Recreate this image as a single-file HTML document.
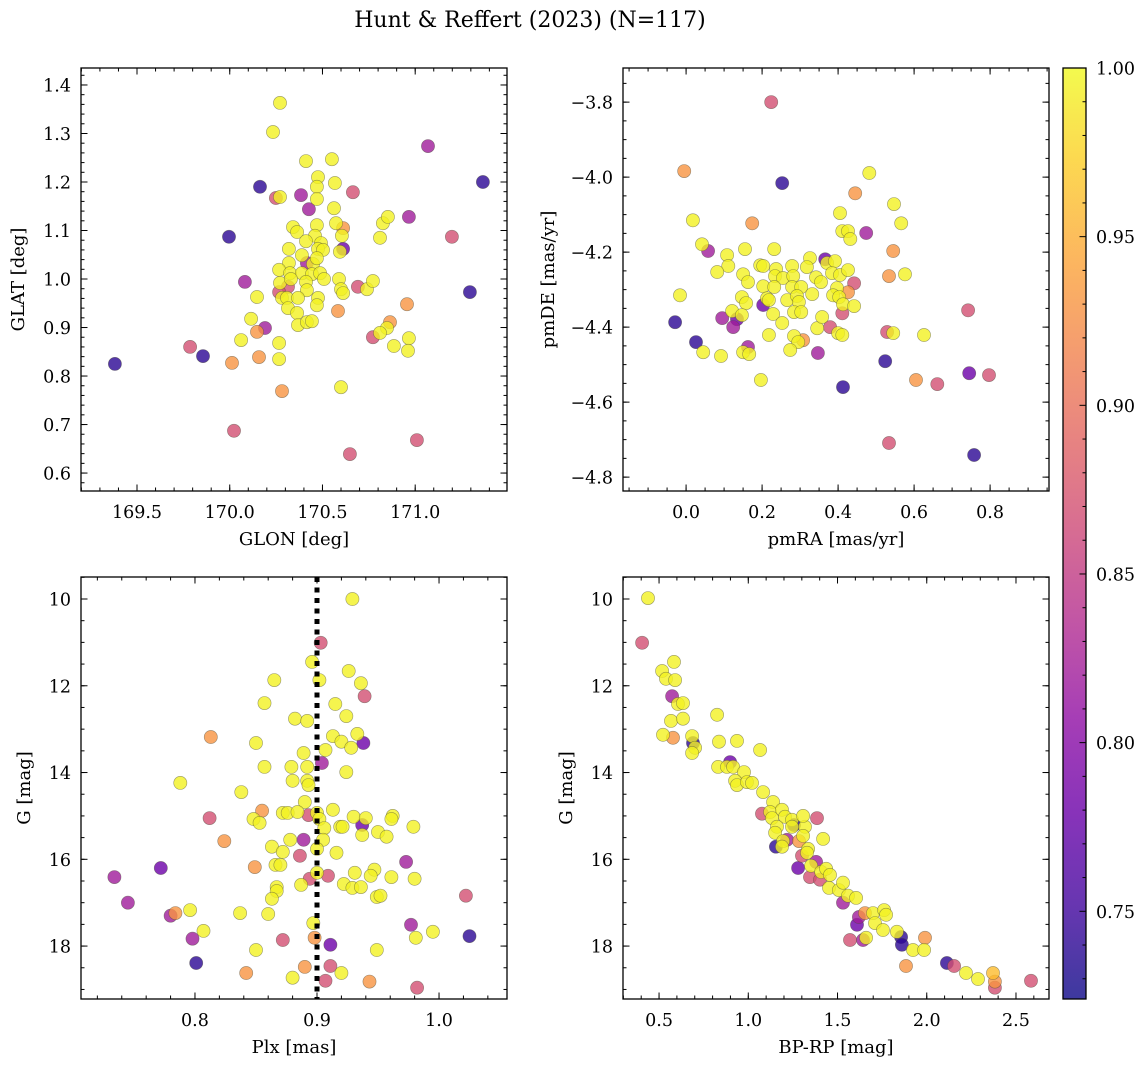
<!DOCTYPE html>
<html><head><meta charset="utf-8"><title>Hunt & Reffert (2023)</title>
<style>
html,body{margin:0;padding:0;background:#fff;}
svg{display:block;}
text{font-family:"DejaVu Serif","Liberation Serif",serif;fill:#000;}
</style></head>
<body>
<svg id="fig" width="1148" height="1067" viewBox="0 0 1148 1067" xmlns="http://www.w3.org/2000/svg">
<text x="530" y="27" font-size="22" text-anchor="middle">Hunt &amp; Reffert (2023) (N=117)</text>
</svg>
<script>
// probability levels
const Y=0.995,O=0.93,P=0.87,M=0.82,V=0.78,B=0.74;

// Panel 1: GLON / GLAT
const p1Lon=[170.271,170.233,170.411,170.551,170.476,170.567,170.470,170.470,170.163,170.249,170.271,170.384,170.664,170.427,170.562,170.573,170.611,170.605,170.966,170.826,170.853,170.810,169.996,170.341,170.363,170.470,170.460,170.411,170.492,170.476,170.503,170.319,170.611,170.594,170.389,170.416,170.449,170.470,170.319,170.266,170.325,170.389,170.443,170.487,170.508,170.271,170.330,170.314,170.266,170.411,170.416,170.282,170.309,170.368,170.476,170.470,170.314,170.363,170.368,170.416,170.443,170.589,170.600,170.611,170.691,170.740,170.772,170.584,170.082,170.147,170.115,170.190,170.147,170.061,170.266,170.266,170.158,170.012,169.856,170.282,170.600,170.956,170.864,170.848,170.772,170.810,170.885,170.966,170.961,171.069,171.365,171.198,171.295,169.381,169.786,171.009,170.648,170.023];
const p1Lat=[1.363,1.303,1.243,1.247,1.210,1.198,1.190,1.165,1.190,1.167,1.169,1.173,1.179,1.144,1.146,1.115,1.105,1.089,1.128,1.115,1.128,1.085,1.087,1.107,1.097,1.111,1.089,1.078,1.074,1.062,1.060,1.062,1.062,1.056,1.049,1.033,1.031,1.043,1.033,1.019,1.012,1.012,1.010,1.012,1.000,0.992,1.000,0.984,0.973,0.994,0.977,0.961,0.961,0.961,0.961,0.946,0.940,0.930,0.905,0.911,0.913,1.000,0.979,0.971,0.984,0.979,0.996,0.934,0.994,0.963,0.918,0.899,0.891,0.874,0.868,0.835,0.839,0.827,0.841,0.769,0.777,0.948,0.911,0.899,0.880,0.889,0.862,0.878,0.852,1.274,1.200,1.087,0.973,0.825,0.860,0.668,0.639,0.687];
const p1Prob=[Y,Y,Y,Y,Y,Y,Y,Y,B,P,Y,M,P,M,Y,Y,O,Y,M,Y,Y,Y,B,Y,Y,Y,Y,Y,Y,Y,Y,Y,V,Y,Y,M,Y,Y,Y,Y,Y,Y,Y,Y,Y,Y,Y,P,P,Y,Y,Y,Y,Y,Y,Y,Y,Y,Y,Y,Y,Y,Y,Y,P,Y,Y,O,M,Y,Y,M,O,Y,Y,Y,O,O,B,O,Y,O,O,Y,P,Y,Y,Y,Y,M,B,P,B,B,P,P,P,P];

// Panel 2: pmRA / pmDE
const p2Ra=[-0.005,0.253,0.482,0.445,0.547,0.566,0.018,0.174,0.405,0.411,0.426,0.432,0.474,0.545,0.534,0.576,0.042,0.058,0.108,0.111,0.082,0.155,0.232,0.195,0.203,0.150,0.163,0.237,0.234,0.255,0.279,0.282,0.326,0.318,0.366,0.371,0.392,0.384,0.405,0.426,0.342,0.355,0.203,0.232,0.279,0.303,0.332,0.266,0.292,0.297,0.284,0.303,0.397,0.387,0.403,0.413,0.426,0.442,0.442,0.411,0.147,0.158,0.213,0.218,0.203,0.229,0.253,0.095,0.121,0.147,0.134,0.124,0.218,0.345,0.358,0.379,0.400,0.411,0.284,0.295,0.308,0.274,0.529,0.545,0.626,0.026,0.045,0.092,0.163,0.150,0.166,0.347,0.524,0.197,0.413,0.605,0.661,-0.016,-0.029,0.742,0.745,0.797,0.758,0.534,0.224];
const p2De=[-3.984,-4.016,-3.989,-4.043,-4.072,-4.123,-4.115,-4.123,-4.096,-4.144,-4.144,-4.165,-4.149,-4.197,-4.264,-4.259,-4.179,-4.197,-4.208,-4.237,-4.253,-4.192,-4.192,-4.235,-4.237,-4.259,-4.280,-4.245,-4.264,-4.269,-4.237,-4.264,-4.216,-4.240,-4.219,-4.229,-4.224,-4.256,-4.261,-4.248,-4.267,-4.280,-4.291,-4.293,-4.293,-4.293,-4.312,-4.328,-4.317,-4.333,-4.360,-4.360,-4.296,-4.315,-4.320,-4.339,-4.307,-4.283,-4.344,-4.363,-4.320,-4.336,-4.323,-4.328,-4.341,-4.365,-4.389,-4.376,-4.357,-4.368,-4.379,-4.400,-4.421,-4.403,-4.373,-4.400,-4.416,-4.421,-4.424,-4.440,-4.435,-4.461,-4.413,-4.416,-4.421,-4.440,-4.467,-4.477,-4.453,-4.467,-4.472,-4.469,-4.491,-4.541,-4.560,-4.541,-4.552,-4.315,-4.387,-4.355,-4.523,-4.528,-4.741,-4.709,-3.800];
const p2Prob=[O,B,Y,O,Y,Y,Y,O,Y,Y,Y,Y,M,O,O,Y,Y,M,Y,Y,Y,Y,Y,Y,Y,Y,Y,Y,Y,Y,Y,Y,Y,Y,V,Y,Y,Y,Y,Y,Y,Y,Y,Y,Y,Y,Y,Y,Y,Y,Y,Y,Y,Y,Y,Y,O,P,Y,P,Y,Y,Y,Y,V,Y,Y,M,Y,Y,V,M,Y,Y,Y,P,Y,Y,Y,Y,O,Y,P,Y,Y,B,Y,Y,M,Y,Y,M,B,Y,B,O,P,Y,B,P,V,P,B,P,P];

// Panel 3: Plx / G
const p3Plx=[0.929,0.903,0.896,0.926,0.865,0.902,0.936,0.939,0.857,0.915,0.924,0.882,0.892,0.813,0.850,0.913,0.920,0.928,0.933,0.938,0.907,0.889,0.904,0.857,0.879,0.892,0.924,0.880,0.892,0.893,0.788,0.838,0.890,0.855,0.812,0.848,0.853,0.872,0.876,0.884,0.893,0.900,0.902,0.913,0.906,0.930,0.940,0.937,0.919,0.921,0.937,0.962,0.961,0.979,0.950,0.957,0.824,0.863,0.878,0.889,0.905,0.872,0.886,0.900,0.916,0.849,0.866,0.870,0.973,0.900,0.894,0.909,0.931,0.947,0.944,0.961,0.980,0.887,0.922,0.929,0.936,0.867,0.867,0.863,0.949,0.952,0.796,0.837,0.860,0.897,0.977,0.995,0.807,0.798,0.872,0.898,0.911,0.981,0.850,0.949,0.801,0.842,0.890,0.911,0.920,0.880,0.907,0.943,0.982,0.734,0.745,0.772,0.780,0.784,1.022,1.025];
const p3G=[10.00,11.01,11.45,11.66,11.87,11.87,11.94,12.24,12.40,12.42,12.70,12.76,12.81,13.18,13.32,13.16,13.29,13.43,13.11,13.32,13.48,13.55,13.78,13.87,13.87,13.87,13.99,14.19,14.19,14.29,14.24,14.45,14.68,14.88,15.05,15.07,15.16,14.93,14.93,14.91,14.98,14.93,15.07,14.86,15.28,15.02,15.05,15.21,15.25,15.25,15.44,15.00,15.07,15.25,15.37,15.48,15.58,15.71,15.55,15.55,15.55,15.83,15.92,15.76,15.85,16.18,16.13,16.13,16.06,16.31,16.45,16.38,16.31,16.24,16.38,16.41,16.45,16.59,16.57,16.66,16.64,16.64,16.73,16.91,16.87,16.84,17.17,17.24,17.26,17.47,17.51,17.67,17.65,17.83,17.86,17.81,17.97,17.81,18.09,18.09,18.39,18.62,18.48,18.46,18.62,18.73,18.80,18.82,18.96,16.41,17.00,16.20,17.30,17.24,16.84,17.77];
const p3Prob=[Y,P,Y,Y,Y,Y,Y,P,Y,Y,Y,Y,Y,O,Y,Y,Y,Y,Y,V,Y,Y,M,Y,Y,Y,Y,Y,Y,Y,Y,Y,Y,O,P,Y,Y,Y,Y,Y,P,Y,Y,Y,Y,Y,Y,V,Y,Y,Y,Y,Y,Y,Y,Y,O,Y,Y,M,Y,Y,P,Y,Y,O,Y,Y,M,Y,P,P,Y,Y,Y,Y,Y,Y,Y,Y,Y,Y,Y,Y,Y,Y,Y,Y,Y,Y,M,Y,Y,M,P,O,V,Y,Y,Y,B,O,O,P,Y,Y,P,O,P,M,M,V,M,O,P,B];

// Panel 4: BP-RP / G
const p4Col=[0.438,0.405,0.584,0.517,0.539,0.590,0.573,0.606,0.634,0.567,0.634,0.825,0.522,0.578,0.685,0.690,0.702,0.685,0.836,0.937,1.066,0.898,0.831,0.881,0.915,0.976,0.926,0.937,0.993,1.021,1.083,1.139,1.077,1.122,1.189,1.133,1.206,1.245,1.256,1.161,1.245,1.318,1.150,1.307,1.385,1.307,1.284,1.217,1.195,1.155,1.189,1.419,1.335,1.329,1.301,1.380,1.279,1.352,1.346,1.402,1.408,1.436,1.458,1.452,1.508,1.531,1.559,1.604,1.531,1.654,1.620,1.699,1.761,1.772,1.609,1.710,1.755,1.833,1.856,1.861,1.990,1.570,1.643,1.660,1.923,1.985,1.884,2.113,2.153,2.220,2.287,2.371,2.382,2.382,2.584];
const p4G=[9.98,11.01,11.45,11.66,11.84,11.87,12.24,12.42,12.40,12.81,12.76,12.67,13.13,13.20,13.16,13.32,13.43,13.55,13.29,13.27,13.48,13.76,13.87,13.87,13.87,13.99,14.19,14.29,14.22,14.24,14.45,14.68,14.95,14.91,14.86,15.05,15.02,15.09,15.21,15.25,15.25,15.25,15.39,15.00,15.05,15.46,15.58,15.55,15.58,15.71,15.71,15.53,15.76,15.85,15.92,16.06,16.20,16.15,16.41,16.47,16.29,16.22,16.36,16.66,16.71,16.54,16.84,16.89,17.00,17.24,17.33,17.24,17.17,17.28,17.51,17.47,17.63,17.67,17.79,17.97,17.81,17.86,17.86,17.81,18.09,18.09,18.46,18.39,18.46,18.62,18.76,18.62,18.82,18.96,18.80];
const p4Prob=[Y,P,Y,Y,Y,Y,M,Y,Y,Y,Y,Y,Y,O,Y,B,Y,Y,Y,Y,Y,V,Y,Y,Y,Y,Y,Y,Y,Y,Y,Y,P,Y,Y,Y,Y,Y,B,Y,Y,Y,Y,Y,P,Y,O,M,Y,B,Y,Y,Y,Y,P,M,V,Y,P,P,Y,Y,Y,Y,Y,Y,Y,Y,M,O,M,Y,Y,Y,V,Y,Y,Y,B,B,O,P,M,Y,Y,Y,O,B,P,Y,Y,0.96,O,P,P];

// colorbar
const cbMin=0.724, cbMax=1.0;
const cbTicks=[0.75,0.80,0.85,0.90,0.95,1.00];

const NS="http://www.w3.org/2000/svg";
const svg=document.getElementById('fig');
function el(tag,attrs,parent){const e=document.createElementNS(NS,tag);for(const k in attrs)e.setAttribute(k,attrs[k]);(parent||svg).appendChild(e);return e;}

const plasma=[[13,8,135],[65,4,157],[106,0,168],[143,13,164],[177,42,144],[204,71,120],[225,100,98],[242,132,75],[252,166,54],[252,206,37],[240,249,33]];
function cmap(v){let t=(v-cbMin)/(cbMax-cbMin);t=Math.max(0,Math.min(1,t));const s=t*10;const i=Math.min(9,Math.floor(s));const f=s-i;const a=plasma[i],b=plasma[i+1];return 'rgb('+[0,1,2].map(k=>Math.round(a[k]+(b[k]-a[k])*f)).join(',')+')';}

function fmt(v,d){const s=Math.abs(v).toFixed(d);return (v<-1e-9?'\u2212':'')+s;}

const TF=17.5, LF=18;
function makePanel(cfg){
  const g=el('g',{});
  
  
  const sx=v=>cfg.x0+(v-cfg.xmin)/(cfg.xmax-cfg.xmin)*(cfg.x1-cfg.x0);
  const sy=v=>cfg.y0+(v-cfg.ytop)/(cfg.ybot-cfg.ytop)*(cfg.y1-cfg.y0);
  const tg=el('g',{stroke:'#000','stroke-width':1},g);
  
  
  function ticks(lo,hi,step){const r=[];const a=Math.ceil(lo/step-1e-6),b=Math.floor(hi/step+1e-6);for(let i=a;i<=b;i++)r.push(+(i*step).toFixed(6));return r;}
  const xlo=Math.min(cfg.xmin,cfg.xmax),xhi=Math.max(cfg.xmin,cfg.xmax);
  const ylo=Math.min(cfg.ytop,cfg.ybot),yhi=Math.max(cfg.ytop,cfg.ybot);
  ticks(xlo,xhi,cfg.xminor).forEach(v=>{const x=sx(v);el('line',{x1:x,x2:x,y1:cfg.y1,y2:cfg.y1-3.5},tg);el('line',{x1:x,x2:x,y1:cfg.y0,y2:cfg.y0+3.5},tg);});
  ticks(ylo,yhi,cfg.yminor).forEach(v=>{const y=sy(v);el('line',{x1:cfg.x0,x2:cfg.x0+3.5,y1:y,y2:y},tg);el('line',{x1:cfg.x1,x2:cfg.x1-3.5,y1:y,y2:y},tg);});
  ticks(xlo,xhi,cfg.xmajor).forEach(v=>{const x=sx(v);el('line',{x1:x,x2:x,y1:cfg.y1,y2:cfg.y1-6.5},tg);el('line',{x1:x,x2:x,y1:cfg.y0,y2:cfg.y0+6.5},tg);
    const t=el('text',{x:x,y:cfg.y1+27,'font-size':TF,'text-anchor':'middle'},g);t.textContent=fmt(v,cfg.xdec);
    
    });
  ticks(ylo,yhi,cfg.ymajor).forEach(v=>{const y=sy(v);el('line',{x1:cfg.x0,x2:cfg.x0+6.5,y1:y,y2:y},tg);el('line',{x1:cfg.x1,x2:cfg.x1-6.5,y1:y,y2:y},tg);
    const t=el('text',{x:cfg.x0-10,y:y+6.5,'font-size':TF,'text-anchor':'end'},g);t.textContent=fmt(v,cfg.ydec);
    
    });
  const pg=el('g',{},g);
  
  
  const clip=el('clipPath',{id:cfg.name+'-clip'},g);
  el('rect',{x:cfg.x0,y:cfg.y0,width:cfg.x1-cfg.x0,height:cfg.y1-cfg.y0},clip);
  pg.setAttribute('clip-path','url(#'+cfg.name+'-clip)');
  const order=cfg.xs.map((_,i)=>i).sort((a,b)=>cfg.ps[a]-cfg.ps[b]);
  order.forEach(i=>{
    const c=el('circle',{cx:sx(cfg.xs[i]).toFixed(1),cy:sy(cfg.ys[i]).toFixed(1),r:6.6,fill:cmap(cfg.ps[i]),'fill-opacity':0.8,stroke:'#4a4a3a','stroke-opacity':0.55,'stroke-width':0.6},pg);
    
    
  });
  if(cfg.vline!==undefined){
    const l=el('line',{x1:sx(cfg.vline),x2:sx(cfg.vline),y1:cfg.y0,y2:cfg.y1,stroke:'#000','stroke-width':5,'stroke-dasharray':'5,5.5'},g);
    
    
  }
  const fr=el('rect',{x:cfg.x0,y:cfg.y0,width:cfg.x1-cfg.x0,height:cfg.y1-cfg.y0,fill:'none',stroke:'#000','stroke-width':1.3},g);
  
  
  const xl=el('text',{x:(cfg.x0+cfg.x1)/2,y:cfg.y1+54,'font-size':LF,'text-anchor':'middle'},g);xl.textContent=cfg.xlabel;
  
  
  const yx=cfg.x0-cfg.ylabOff, yy=(cfg.y0+cfg.y1)/2;
  const yl=el('text',{x:yx,y:yy,'font-size':LF,'text-anchor':'middle',transform:'rotate(-90 '+yx+' '+yy+')'},g);yl.textContent=cfg.ylabel;
  
  
}

makePanel({name:'glon-glat-panel',x0:81,x1:507,y0:68,y1:491,xmin:169.198,xmax:171.495,ytop:1.435,ybot:0.563,xmajor:0.5,xminor:0.1,ymajor:0.1,yminor:0.02,xdec:1,ydec:1,xs:p1Lon,ys:p1Lat,ps:p1Prob,xlabel:'GLON [deg]',ylabel:'GLAT [deg]',ylabOff:57});
makePanel({name:'proper-motion-panel',x0:623,x1:1049,y0:68,y1:491,xmin:-0.166,xmax:0.955,ytop:-3.709,ybot:-4.837,xmajor:0.2,xminor:0.05,ymajor:0.2,yminor:0.05,xdec:1,ydec:1,xs:p2Ra,ys:p2De,ps:p2Prob,xlabel:'pmRA [mas/yr]',ylabel:'pmDE [mas/yr]',ylabOff:69});
makePanel({name:'parallax-cmd-panel',x0:81,x1:507,y0:577,y1:999,xmin:0.7066,xmax:1.0557,ytop:9.493,ybot:19.22,xmajor:0.1,xminor:0.02,ymajor:2,yminor:0.5,xdec:1,ydec:0,xs:p3Plx,ys:p3G,ps:p3Prob,xlabel:'Plx [mas]',ylabel:'G [mag]',ylabOff:51,vline:0.9});
makePanel({name:'color-magnitude-panel',x0:623,x1:1049,y0:577,y1:999,xmin:0.298,xmax:2.685,ytop:9.493,ybot:19.22,xmajor:0.5,xminor:0.1,ymajor:2,yminor:0.5,xdec:1,ydec:0,xs:p4Col,ys:p4G,ps:p4Prob,xlabel:'BP-RP [mag]',ylabel:'G [mag]',ylabOff:51});

// colorbar
(function(){
  const x0=1063,x1=1086,y0=68,y1=999;
  const g=el('g',{});
  
  
  const defs=el('defs',{},g);
  const lg=el('linearGradient',{id:'cbgrad',x1:0,y1:1,x2:0,y2:0},defs);
  for(let i=0;i<=20;i++){const v=cbMin+(cbMax-cbMin)*i/20;el('stop',{offset:(i/20),'stop-color':cmap(v),'stop-opacity':0.8},lg);}
  const r=el('rect',{x:x0,y:y0,width:x1-x0,height:y1-y0,fill:'url(#cbgrad)',stroke:'#000','stroke-width':1.3},g);
  
  
  const sy=v=>y1-(v-cbMin)/(cbMax-cbMin)*(y1-y0);
  for(let k=Math.ceil(cbMin*100);k<=100;k++){const y=sy(k/100);el('line',{x1:x1,x2:x1-(k%5===0?6.5:3.5),y1:y,y2:y,stroke:'#000','stroke-width':1},g);}
  cbTicks.forEach(v=>{const t=el('text',{x:x1+10,y:sy(v)+6.5,'font-size':TF},g);t.textContent=v.toFixed(2);
    
    });
})();
</script>
</body></html>
